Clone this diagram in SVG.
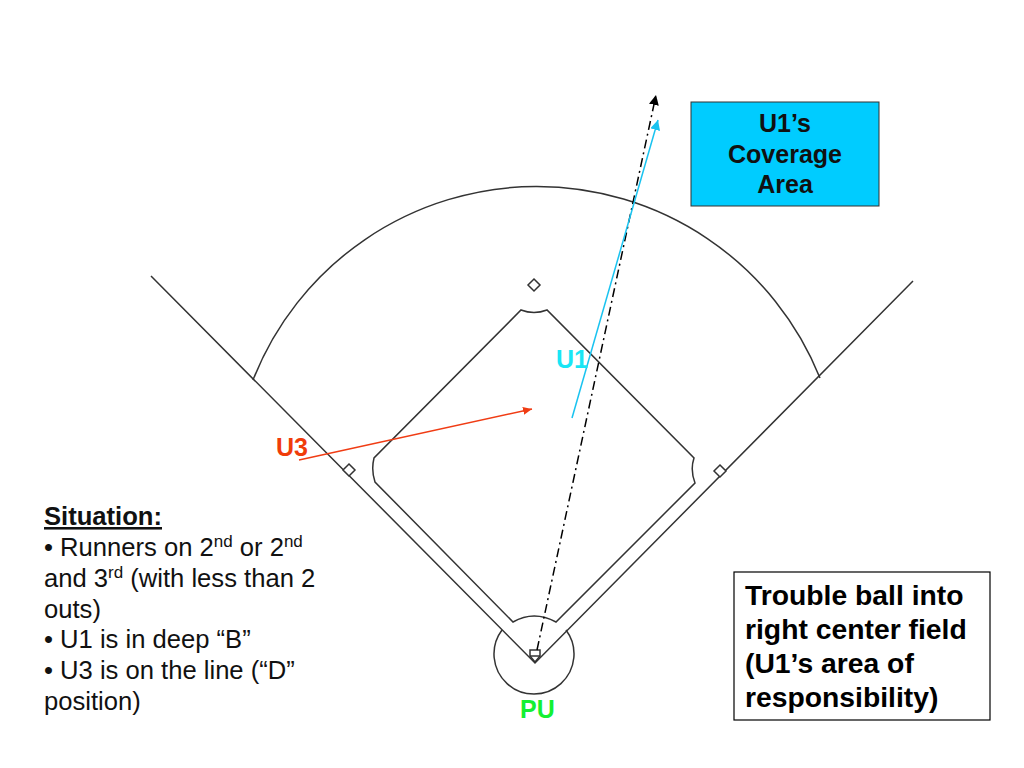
<svg xmlns="http://www.w3.org/2000/svg" width="1024" height="768" viewBox="0 0 1024 768">
<style>
.f{fill:none;stroke:#333;stroke-width:1.5}
.b{fill:#fff;stroke:#333;stroke-width:1.5}
text{font-family:"Liberation Sans",Arial,sans-serif}
.l{font-size:25px;font-weight:bold}
.s{font-size:25.6px;fill:#111}
.t{font-size:28.3px;font-weight:bold;fill:#000}
.c{font-size:25px;font-weight:bold;fill:#111;text-anchor:middle}
</style>
<defs>
<marker id="ab" markerUnits="userSpaceOnUse" markerWidth="12" markerHeight="12" refX="10" refY="5" orient="auto"><path d="M0 0L10 5L0 10Z" fill="#000"/></marker>
<marker id="ac" markerUnits="userSpaceOnUse" markerWidth="12" markerHeight="12" refX="10" refY="5" orient="auto"><path d="M0 0L10 5L0 10Z" fill="#19c3f0"/></marker>
<marker id="ar" markerUnits="userSpaceOnUse" markerWidth="12" markerHeight="10" refX="9" refY="4" orient="auto"><path d="M0 0L9 4L0 8Z" fill="#f03c14"/></marker>
</defs>
<g id="field">
<path class="f" d="M151 276L535 663L913 281"/>
<path class="f" d="M253 380A305 305 0 0 1 820 378"/>
<path class="f" d="M521 310Q534 315 547 310L694 458Q690 470 695 483L556 622Q534 610 513 622L375 482Q371 470 374 458Z"/>
<path class="f" d="M502 630A40 40 0 1 0 566 630"/>
<path class="f" d="M530 656L535 662L540 656"/>
</g>
<g id="second-base"><path class="b" d="M534 279L540 285L534 291L528 285Z"/></g>
<g id="first-base"><path class="b" d="M720 465L726 471L720 477L714 471Z"/></g>
<g id="third-base"><path class="b" d="M349 464L355 470L349 476L343 470Z"/></g>
<g id="home-plate"><rect class="b" x="530" y="650" width="10" height="6"/></g>
<g id="connectors">
<path d="M537 650L656 95" fill="none" stroke="#000" stroke-width="1.5" stroke-dasharray="9 4 2 4" marker-end="url(#ab)"/>
<path d="M572 418L658 120" fill="none" stroke="#19c3f0" stroke-width="1.5" marker-end="url(#ac)"/>
<path d="M299 460L532 409" fill="none" stroke="#f03c14" stroke-width="1.5" marker-end="url(#ar)"/>
</g>
<g id="u1"><text class="l" x="556" y="368" fill="#19e6f5">U1</text></g>
<g id="u3"><text class="l" x="276" y="456" fill="#f03c0a">U3</text></g>
<g id="pu"><text class="l" x="520" y="718" fill="#14f032">PU</text></g>
<g id="coverage">
<rect x="691" y="102" width="188" height="104" fill="#00ccff" stroke="#333" stroke-width="1"/>
<text class="c" x="785" y="132">U1’s</text>
<text class="c" x="785" y="163">Coverage</text>
<text class="c" x="785" y="193">Area</text>
</g>
<g id="situation">
<text class="s" x="44" y="525" font-weight="bold" text-decoration="underline">Situation:</text>
<text class="s" x="44" y="556">• Runners on 2<tspan font-size="17" dy="-9">nd</tspan><tspan dy="9"> or 2</tspan><tspan font-size="17" dy="-9">nd</tspan></text>
<text class="s" x="44" y="587">and 3<tspan font-size="17" dy="-9">rd</tspan><tspan dy="9"> (with less than 2</tspan></text>
<text class="s" x="44" y="618">outs)</text>
<text class="s" x="44" y="648">• U1 is in deep “B”</text>
<text class="s" x="44" y="679">• U3 is on the line (“D”</text>
<text class="s" x="44" y="710">position)</text>
</g>
<g id="trouble">
<rect x="734" y="572" width="256" height="148" fill="#fff" stroke="#000" stroke-width="1.2"/>
<text class="t" x="745" y="605">Trouble ball into</text>
<text class="t" x="745" y="639">right center field</text>
<text class="t" x="745" y="673">(U1’s area of</text>
<text class="t" x="745" y="707">responsibility)</text>
</g>
</svg>
